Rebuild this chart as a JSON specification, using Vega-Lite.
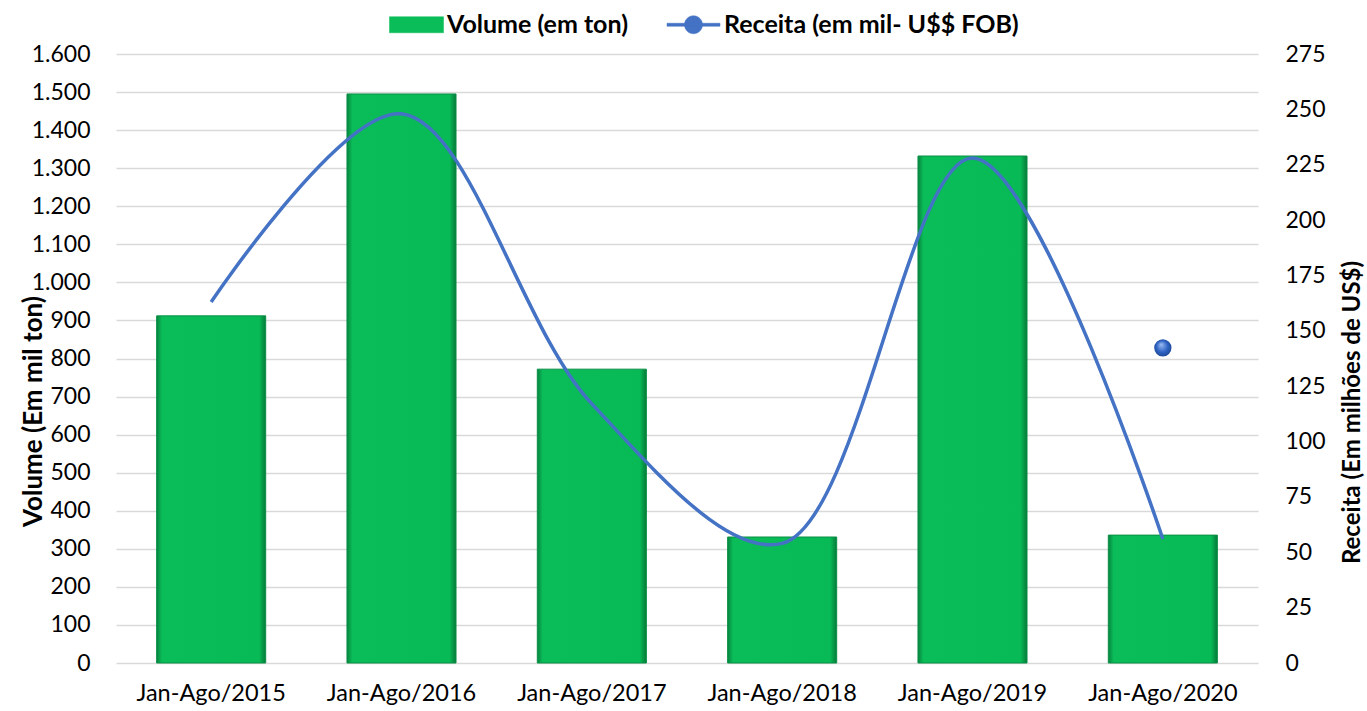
{
  "$schema": "https://vega.github.io/schema/vega-lite/v6.json",
  "width": 1142,
  "height": 609,
  "autosize": {"type": "none"},
  "padding": {"left": 116, "top": 54, "right": 109, "bottom": 48},
  "background": "white",
  "config": {
    "font": "Lato",
    "view": {"stroke": null},
    "axis": {"labelFont": "Lato", "titleFont": "Lato", "labelColor": "#000000", "titleColor": "#000000"}
  },
  "data": {
    "values": [
      {"ano": "Jan-Ago/2015", "volume": 912, "receita": 163},
      {"ano": "Jan-Ago/2016", "volume": 1495, "receita": 248},
      {"ano": "Jan-Ago/2017", "volume": 772, "receita": 117},
      {"ano": "Jan-Ago/2018", "volume": 331, "receita": 54},
      {"ano": "Jan-Ago/2019", "volume": 1332, "receita": 228},
      {"ano": "Jan-Ago/2020", "volume": 336, "receita": 56}
    ]
  },
  "encoding": {
    "x": {
      "field": "ano",
      "type": "nominal",
      "sort": null,
      "scale": {"paddingInner": 0.427, "paddingOuter": 0.2135},
      "axis": {
        "title": null,
        "labelAngle": 0,
        "labelFontSize": 23.5,
        "labelPadding": 18,
        "labelOverlap": false,
        "ticks": false,
        "domain": false,
        "grid": false
      }
    }
  },
  "layer": [
    {
      "mark": {
        "type": "bar",
        "fill": {
          "gradient": "linear",
          "x1": 0, "y1": 0, "x2": 1, "y2": 0,
          "stops": [
            {"offset": 0, "color": "#06843F"},
            {"offset": 0.05, "color": "#0BBD59"},
            {"offset": 0.94, "color": "#08BA56"},
            {"offset": 1, "color": "#057A39"}
          ]
        },
        "stroke": "#0A8F45",
        "strokeWidth": 1
      },
      "encoding": {
        "y": {
          "field": "volume",
          "type": "quantitative",
          "scale": {"domain": [0, 1600]},
          "axis": {
            "title": "Volume (Em mil  ton)",
            "titleFontSize": 26,
            "titleFontWeight": "bold",
            "titleX": -83,
            "titleY": 357,
            "titleAngle": -90,
            "titleBaseline": "middle",
            "titleAlign": "center",
            "values": [0,100,200,300,400,500,600,700,800,900,1000,1100,1200,1300,1400,1500,1600],
            "labelExpr": "replace(format(datum.value, ','), ',', '.')",
            "labelFontSize": 23,
            "labelPadding": 26,
            "labelOverlap": false,
            "ticks": false,
            "domain": false,
            "grid": true,
            "gridColor": "#D9D9D9",
            "gridWidth": 1.5
          }
        }
      }
    },
    {
      "mark": {"type": "line", "interpolate": "catmull-rom", "strokeWidth": 3.5, "color": "#4472C4"},
      "encoding": {
        "y": {
          "field": "receita",
          "type": "quantitative",
          "scale": {"domain": [0, 275]},
          "axis": {
            "orient": "right",
            "title": "Receita (Em milhões de US$)",
            "titleFontSize": 24,
            "titleFontWeight": "bold",
            "titleX": 94,
            "titleY": 358,
            "titleAngle": -90,
            "titleBaseline": "middle",
            "titleAlign": "center",
            "values": [0,25,50,75,100,125,150,175,200,225,250,275],
            "labelFontSize": 23,
            "labelPadding": 27,
            "labelOverlap": false,
            "ticks": false,
            "domain": false,
            "grid": false
          }
        },
        "color": {
          "datum": "Receita (em mil- U$$ FOB)",
          "type": "nominal",
          "scale": {
            "domain": ["Volume (em ton)", "Receita (em mil- U$$ FOB)"],
            "range": ["#0BBD59", "#4472C4"]
          },
          "legend": {
            "title": null,
            "orient": "none",
            "direction": "horizontal",
            "legendX": 288,
            "legendY": -42,
            "labelFontSize": 25,
            "labelFontWeight": "bold",
            "labelColor": "#000000",
            "labelOffset": 18,
            "labelLimit": 500,
            "columnPadding": 37,
            "symbolSize": 100,
            "encode": {
              "symbols": {
                "update": {
                  "shape": {"signal": "datum.value === 'Volume (em ton)' ? 'M-5.4,-1.6H5.4V1.6H-5.4Z' : 'M-5.3,-0.3H5.3V0.3H-5.3Z M0,-1.8A1.8,1.8 0 1 1 0,1.8A1.8,1.8 0 1 1 0,-1.8Z'"},
                  "fill": {"signal": "datum.value === 'Volume (em ton)' ? '#0BBD59' : '#4472C4'"},
                  "stroke": {"signal": "datum.value === 'Volume (em ton)' ? '#078A40' : '#3A63AE'"},
                  "strokeWidth": {"value": 0.5},
                  "opacity": {"value": 1},
                  "size": {"value": 100}
                }
              }
            }
          }
        }
      }
    },
    {
      "data": {"values": [{"ano": "Jan-Ago/2020", "receita": 142.3}]},
      "mark": {
        "type": "point",
        "filled": true,
        "shape": "circle",
        "size": 300,
        "dx": 53,
        "opacity": 1,
        "fill": {
          "gradient": "radial",
          "x1": 0.4, "y1": 0.3, "r1": 0,
          "x2": 0.5, "y2": 0.5, "r2": 0.55,
          "stops": [
            {"offset": 0, "color": "#9DBDF2"},
            {"offset": 0.6, "color": "#2E63C4"},
            {"offset": 1, "color": "#1D4590"}
          ]
        }
      },
      "encoding": {
        "y": {"field": "receita", "type": "quantitative", "scale": {"domain": [0, 275]}, "axis": null}
      }
    }
  ],
  "resolve": {"scale": {"y": "independent"}}
}
